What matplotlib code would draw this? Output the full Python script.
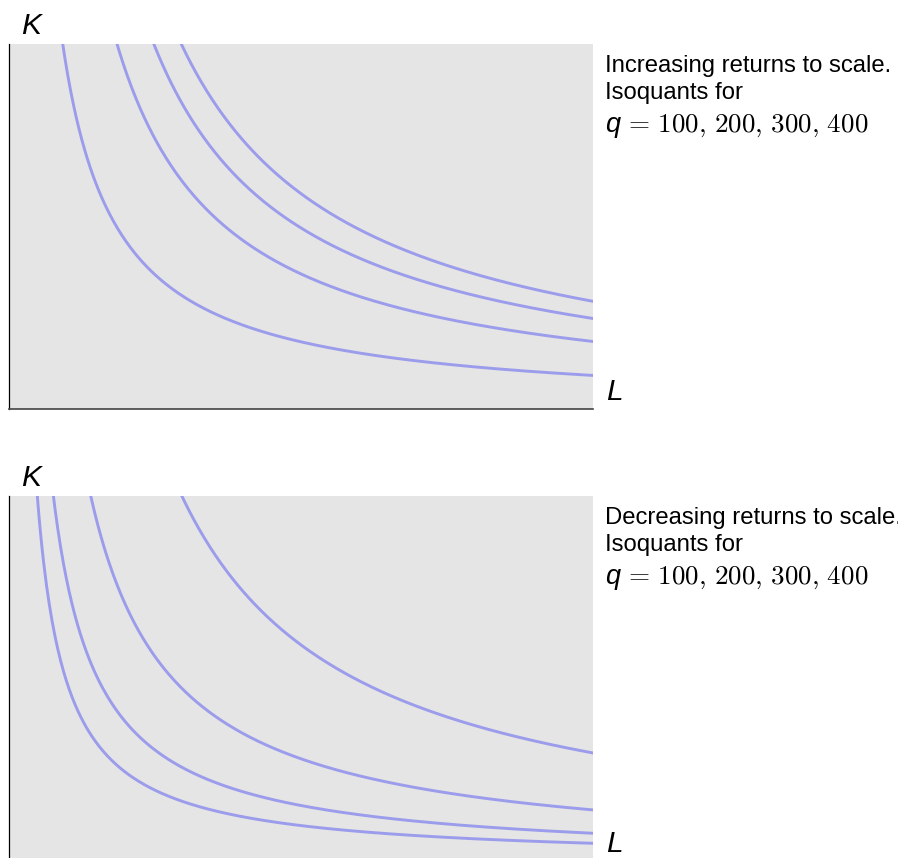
import numpy as np
import matplotlib
matplotlib.use("Agg")
import matplotlib.pyplot as plt

plt.rcParams['font.family'] = ['Liberation Sans', 'DejaVu Sans']
plt.rcParams['mathtext.fontset'] = 'custom'
plt.rcParams['mathtext.rm'] = 'cmr10'
plt.rcParams['mathtext.it'] = 'Liberation Sans:italic'
plt.rcParams['axes.formatter.use_mathtext'] = True

# output levels, and the L*K product of each isoquant
q_levels = [100, 200, 300, 400]
lk_increasing = [9.2, 18.5, 24.8, 29.5]
lk_decreasing = [4.85, 7.6, 14.0, 29.6]
L_max = 10
K_max = 10
L = np.linspace(0.3, L_max, 400)

panels = [
    ("Increasing returns to scale.", lk_increasing),
    ("Decreasing returns to scale.", lk_decreasing),
]

W, H = 898, 858
fig = plt.figure(figsize=(W / 100, H / 100), dpi=100)

line_col = '#9c9cec'
for i, (title, lk) in enumerate(panels):
    off = i * 452  # vertical pixel offset of second panel
    top = 44 + off
    ax = fig.add_axes([9 / W, 1 - (top + 365) / H, 584 / W, 365 / H])
    ax.set_facecolor('#e5e5e5')
    for c in lk:
        ax.plot(L, c / L, color=line_col, lw=2.1)
    ax.set_xlim(0, L_max)
    ax.set_ylim(0, K_max)
    ax.set_xticks([])
    ax.set_yticks([])
    ax.spines['top'].set_visible(False)
    ax.spines['right'].set_visible(False)
    ax.spines['left'].set_color('black')
    ax.spines['left'].set_linewidth(0.9)
    ax.spines['bottom'].set_color('#444444')
    ax.spines['bottom'].set_linewidth(1.2)

    fig.text(21 / W, 1 - (34 + off) / H, 'K', fontsize=21.5, style='italic',
             ha='left', va='baseline')
    fig.text(606 / W, 1 - (400 + off) / H, 'L', fontsize=21.5, style='italic',
             ha='left', va='baseline')

    fig.text(605 / W, 1 - (72 + off) / H, title, fontsize=17.2,
             ha='left', va='baseline')
    fig.text(605 / W, 1 - (99 + off) / H, 'Isoquants for', fontsize=17.2,
             ha='left', va='baseline')
    qs = ', '.join(str(q) for q in q_levels)
    fig.text(605 / W, 1 - (132 + off) / H, r'$q\,=\,' + qs.replace(' ', r'\,') + '$',
             fontsize=19.5, ha='left', va='baseline')

fig.savefig('out.png', dpi=100)
